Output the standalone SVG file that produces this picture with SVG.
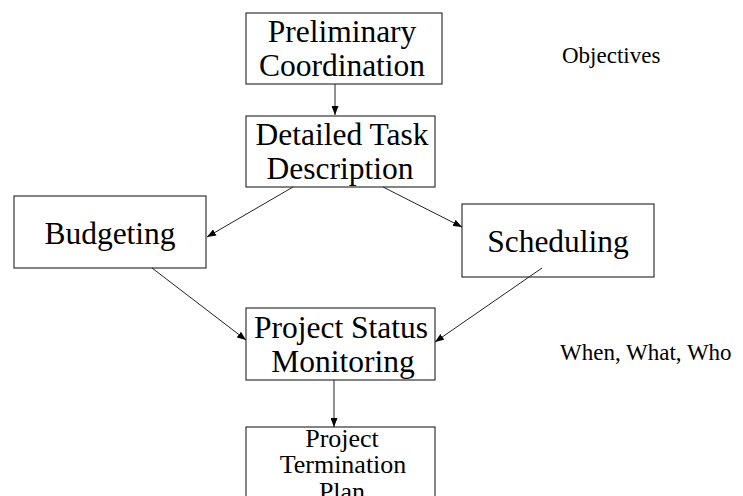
<svg xmlns="http://www.w3.org/2000/svg" width="743" height="496" viewBox="0 0 743 496">
<defs>
<marker id="ah" markerWidth="9" markerHeight="7" refX="9" refY="3.5" orient="auto" markerUnits="userSpaceOnUse">
<path d="M0,0 L9,3.5 L0,7 Z" fill="#000"/>
</marker>
<style>
.box{fill:#fff;stroke:#333;stroke-width:1.2}
.t{font-family:"Liberation Serif","Times New Roman",serif;font-size:31.5px;fill:#000;text-anchor:middle}
.s{font-family:"Liberation Serif","Times New Roman",serif;font-size:26px;fill:#000;text-anchor:middle}
.n{font-family:"Liberation Serif","Times New Roman",serif;font-size:23px;fill:#000}
.c{stroke:#222;stroke-width:1;fill:none;marker-end:url(#ah)}
</style>
</defs>
<rect width="743" height="496" fill="#fff"/>
<g id="preliminary">
<rect class="box" x="246" y="13" width="196" height="71"/>
<text class="t" x="342" y="42">Preliminary</text>
<text class="t" x="342" y="76">Coordination</text>
</g>
<g id="detailed">
<rect class="box" x="246" y="116" width="189" height="71"/>
<text class="t" x="342" y="145">Detailed Task</text>
<text class="t" x="340" y="179">Description</text>
</g>
<g id="budgeting">
<rect class="box" x="14" y="196" width="192" height="72"/>
<text class="t" x="110" y="244">Budgeting</text>
</g>
<g id="scheduling">
<rect class="box" x="462" y="204" width="192" height="73"/>
<text class="t" x="558" y="252">Scheduling</text>
</g>
<g id="status">
<rect class="box" x="246" y="308" width="189" height="72"/>
<text class="t" x="341" y="338">Project Status</text>
<text class="t" x="343" y="372">Monitoring</text>
</g>
<g id="termination">
<rect class="box" x="246" y="427" width="189" height="80"/>
<text class="s" x="342" y="447">Project</text>
<text class="s" x="343" y="473">Termination</text>
<text class="s" x="342" y="500">Plan</text>
</g>
<g id="notes">
<text class="n" x="562" y="63">Objectives</text>
<text class="n" x="560" y="360">When, What, Who</text>
</g>
<g id="connectors">
<line class="c" x1="335" y1="84" x2="335" y2="115"/>
<line class="c" x1="293" y1="187" x2="207" y2="237"/>
<line class="c" x1="383" y1="187" x2="462" y2="227"/>
<line class="c" x1="152" y1="268" x2="246" y2="340"/>
<line class="c" x1="542" y1="268" x2="435" y2="342"/>
<line class="c" x1="334" y1="380" x2="334" y2="427"/>
</g>
</svg>
